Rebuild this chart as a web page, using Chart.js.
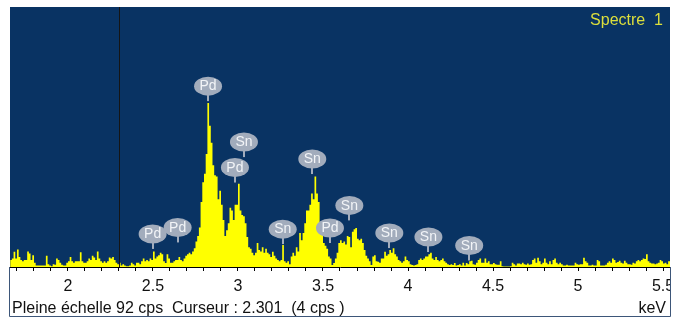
<!DOCTYPE html>
<html>
<head>
<meta charset="utf-8">
<title>Spectre 1</title>
<script src="https://cdn.jsdelivr.net/npm/chart.js@4.4.1/dist/chart.umd.min.js"></script>
<style>
  html, body { margin: 0; padding: 0; background: #fff; }
  #chart { display: block; }
</style>
</head>
<body>
<canvas id="chart" width="682" height="322"></canvas>
<script>
// spectrum channels, 10 eV each, starting at 1.66 keV (cps)
const channelStart = 1.66;
const channelWidth = 0.01;
const counts = [
  3, 2.5, 3, 5.4, 3, 6.2, 3.5, 2.5, 2, 2.5,
  2.5, 5.5, 4.8, 2.5, 4.2, 1.5, 0.5, 0.5, 0.5, 0.5,
  0.5, 0.5, 4, 1, 0.5, 0.3, 1, 0.8, 3, 2.5,
  1.5, 0.8, 0.5, 0.5, 1.5, 2, 3.5, 2, 1.5, 2,
  2, 2, 5.2, 2, 1.5, 1.5, 2, 3, 2.5, 4,
  3.4, 2.5, 5.5, 3, 2, 1.5, 2, 1.5, 2, 3.4,
  3, 3.5, 2.5, 1.5, 1, 1.5, 0.5, 1, 0.5, 0.3,
  0.3, 0.5, 1.5, 1, 0.5, 1.5, 1.5, 1, 2, 3,
  2, 2.5, 2, 3, 2.5, 5.5, 3, 3.7, 4.2, 5,
  4.5, 2, 1.4, 4.5, 3, 1.5, 1.5, 2, 2.5, 2.5,
  3.5, 2.5, 2, 3, 4, 4.5, 5, 4.5, 5.5, 6.6,
  9, 11, 14, 23, 30, 33, 40, 58, 50, 44,
  36, 32.5, 32, 24, 27, 22, 16.6, 11, 13, 15.5,
  21, 20, 16.6, 22, 22, 29.5, 20, 18.4, 18, 15.5,
  10.6, 7, 6.5, 5, 4.2, 5, 8.5, 6, 5.5, 7,
  5, 6.5, 5, 4.5, 3.5, 5.4, 4, 3, 2.5, 2,
  2.5, 7.8, 2, 1.5, 2, 1, 3.7, 5, 4, 7,
  5.5, 12, 9.5, 12, 15.5, 20, 20, 22, 26, 24,
  32, 26, 23, 15.5, 12, 8.5, 7.5, 6.5, 3.7, 3,
  0.7, 1.4, 3, 5, 8.5, 9.5, 8.5, 9, 8, 11,
  10.6, 7, 12.5, 13.4, 13.8, 10, 9.5, 10, 8.5, 6,
  4, 3, 2, 0.7, 3.7, 4.2, 2, 1.9, 1.5, 3,
  3, 5.4, 4, 4.5, 6, 5, 6.6, 4.5, 3.7, 2.5,
  2, 1.5, 2, 3.7, 2.5, 2, 1, 0.7, 0.5, 0.7,
  1, 2.5, 3, 2.5, 3, 3.7, 3.7, 4.5, 5, 3,
  2.5, 3.5, 2.5, 2, 2.5, 3, 2, 1.5, 1, 0.7,
  1, 0.7, 1.4, 0.5, 0.7, 1, 0.5, 1.5, 0.5, 1.4,
  1, 2, 2.2, 1, 0.8, 1.5, 2.5, 3, 1.5, 1.5,
  3, 1.5, 2, 1, 1, 1.4, 1, 0.8, 0.8, 2,
  0.3, 0.2, 0.2, 0.2, 0.2, 0.3, 1.5, 1, 0.5, 1.2,
  1.2, 1, 1.5, 1, 0.8, 1.2, 0.8, 1, 2.5, 3,
  1.5, 3.3, 2, 1, 1.5, 3, 1.5, 1, 2, 1,
  2.5, 3, 1.5, 1, 1.5, 1, 0.5, 0.5, 0.8, 0.5,
  0.5, 0.5, 0.5, 1.5, 1, 0.8, 1, 1, 3.3, 2,
  1.5, 0.5, 0.5, 0.8, 0.5, 0.5, 2.5, 2, 0.5, 0.5,
  0.5, 0.8, 1.5, 2, 1.5, 3, 2.5, 1.5, 1.8, 2.2,
  1.5, 1.2, 2.2, 1.5, 1, 1, 0.8, 1.5, 1.2, 2,
  2.5, 2, 2.5, 3, 2.8, 4.5, 2, 1.5, 1.2, 1.2,
  1, 1.2, 1.5, 2.5, 2, 1.2, 1.5, 1, 2
];

// element line markers (keV) and the height of their tag (cps)
const markerNames = ['Pd', 'Sn', 'Pd', 'Sn', 'Pd', 'Pd', 'Sn', 'Pd', 'Sn', 'Sn', 'Sn', 'Sn'];
const markerEnergies = [2.824, 3.035, 2.982, 3.437, 2.498, 2.645, 3.263, 3.541, 3.655, 3.890, 4.120, 4.360];
const markerHeights = [64, 44.2, 35.2, 38.2, 11.7, 14, 13.4, 13.8, 21.8, 12, 10.6, 7.6];

const fullScale = 92;
const cursorEnergy = 2.301;
const cursorCounts = 4;
const axisMin = 1.659;
const axisMax = 5.541;
const spectrumName = 'Spectre  1';

const FONT = '"Liberation Sans", Arial, sans-serif';

function spectrumPoints() {
  const pts = counts.map((c, i) => ({ x: channelStart + i * channelWidth, y: c }));
  pts.push({ x: channelStart + counts.length * channelWidth, y: counts[counts.length - 1] });
  return pts;
}

function tickLabel(value) {
  const v = Math.round(value * 10) / 10;
  return Math.abs(v * 2 - Math.round(v * 2)) < 1e-9 ? String(v) : '';
}

const spectrumDecor = {
  id: 'spectrumDecor',
  beforeDraw(chart) {
    const { ctx, chartArea: a } = chart;
    ctx.save();
    ctx.fillStyle = '#093363';
    ctx.fillRect(a.left, a.top, a.right - a.left, a.bottom - a.top);
    ctx.restore();
  },
  afterDatasetsDraw(chart) {
    const { ctx, chartArea: a, scales } = chart;
    const xs = scales.x, ys = scales.y;
    ctx.save();

    // cursor
    const cx = Math.round(xs.getPixelForValue(cursorEnergy)) + 0.5;
    ctx.strokeStyle = '#151515';
    ctx.lineWidth = 1;
    ctx.beginPath();
    ctx.moveTo(cx, a.top);
    ctx.lineTo(cx, a.bottom);
    ctx.stroke();

    // element tags
    ctx.font = '14px ' + FONT;
    ctx.textAlign = 'center';
    ctx.textBaseline = 'middle';
    markerNames.forEach((name, i) => {
      const x = xs.getPixelForValue(markerEnergies[i]);
      const y = ys.getPixelForValue(markerHeights[i]);
      ctx.fillStyle = '#a2acbc';
      ctx.fillRect(Math.round(x) - 1, y + 8, 2, 7);
      ctx.beginPath();
      ctx.ellipse(x, y, 14, 9.5, 0, 0, Math.PI * 2);
      ctx.fill();
      ctx.fillStyle = '#f2f4f7';
      ctx.fillText(name, x, y + 0.5);
    });
    ctx.restore();
  },
  afterDraw(chart) {
    const { ctx, chartArea: a } = chart;
    ctx.save();
    // clip the last tick label at the panel edge
    ctx.fillStyle = '#fff';
    ctx.fillRect(a.right + 1, a.bottom + 1, 20, 60);

    ctx.strokeStyle = '#3d5679';
    ctx.lineWidth = 1;
    ctx.beginPath();
    ctx.moveTo(a.left - 0.5, a.bottom);
    ctx.lineTo(a.left - 0.5, 316.5);
    ctx.lineTo(a.right + 0.5, 316.5);
    ctx.lineTo(a.right + 0.5, a.bottom);
    ctx.stroke();

    ctx.font = '16px ' + FONT;
    ctx.fillStyle = '#dcdf3c';
    ctx.textAlign = 'right';
    ctx.textBaseline = 'alphabetic';
    ctx.fillText(spectrumName, a.right - 7, 25);

    ctx.fillStyle = '#111';
    ctx.textAlign = 'left';
    ctx.fillText('Pleine échelle ' + fullScale + ' cps  Curseur : ' + cursorEnergy.toFixed(3) +
      '  (' + cursorCounts + ' cps )', a.left + 2, 313);
    ctx.textAlign = 'right';
    ctx.fillText('keV', a.right - 4, 313);
    ctx.restore();
  }
};

function drawChart() {
  const ctx = document.getElementById('chart').getContext('2d');
  new Chart(ctx, {
    type: 'line',
    data: {
      datasets: [{
        data: spectrumPoints(),
        stepped: 'after',
        fill: 'origin',
        backgroundColor: '#ffff00',
        borderColor: '#ffff00',
        borderWidth: 0,
        pointRadius: 0
      }]
    },
    options: {
      responsive: false,
      animation: false,
      devicePixelRatio: 1,
      layout: { padding: { left: 10, right: 12, top: 7, bottom: 0 } },
      plugins: {
        legend: { display: false },
        tooltip: { enabled: false }
      },
      scales: {
        x: {
          type: 'linear',
          min: axisMin,
          max: axisMax,
          afterFit(scale) { scale.height = 55; },
          grid: { drawOnChartArea: false, drawTicks: true, tickLength: 4, tickColor: '#000' },
          border: { display: true, color: '#000', width: 1 },
          ticks: {
            stepSize: 0.1,
            includeBounds: false,
            autoSkip: false,
            maxRotation: 0,
            padding: 6,
            color: '#111',
            font: { family: FONT, size: 16 },
            callback: tickLabel
          }
        },
        y: {
          display: false,
          min: 0,
          max: fullScale
        }
      }
    },
    plugins: [spectrumDecor]
  });
}

drawChart();
</script>
</body>
</html>
